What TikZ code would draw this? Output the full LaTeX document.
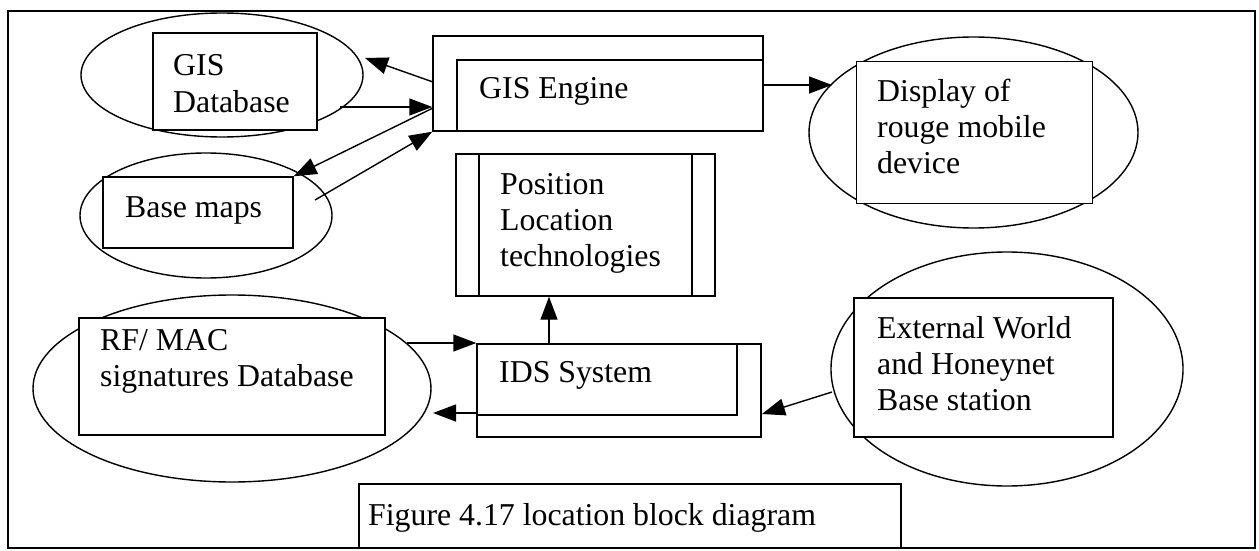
\documentclass[tikz,border=0pt]{standalone}
\usepackage{fontspec}
\setmainfont{Liberation Serif}
\usetikzlibrary{arrows.meta,shapes.geometric}
% stacked lines whose baseline is the first line's baseline
\newcommand\tstack[1]{\vtop{\baselineskip=36.3pt\halign{##\hfil\cr#1\crcr}}}
\tikzset{
  ink/.style={line width=1.4pt, black},
  oval/.style={ink, draw, ellipse, inner sep=0pt},
  box/.style={ink, draw, fill=white, rectangle, inner sep=0pt},
  txt/.style={anchor=base west, inner sep=0pt, font=\fontsize{31.8}{36.3}\selectfont},
  arr/.style={ink, -{Triangle[length=23pt,width=17pt]}},
}
\begin{document}
\begin{tikzpicture}[x=1pt,y=-1pt]
\useasboundingbox (0,0) rectangle (1259,551);
% outer frame
\draw[ink] (8,11) rectangle (1255,548);

% ovals behind the boxes
\node[oval, minimum width=282pt, minimum height=124pt] (dbE)   at (222,75) {};
\node[oval, minimum width=252pt, minimum height=125pt] (mapE)  at (206,215.5) {};
\node[oval, minimum width=329pt, minimum height=191pt] (dispE) at (973.5,132.5) {};
\node[oval, minimum width=352pt, minimum height=234pt] (extE)  at (1007,369) {};
\node[oval, minimum width=398pt, minimum height=187pt] (rfE)   at (232,388.5) {};

% boxes
\node[box, minimum width=164pt, minimum height=97pt]  (db)   at (235,81.5) {};
\node[box, minimum width=190pt, minimum height=71pt]  (map)  at (198,212.5) {};
\node[box, minimum width=236pt, minimum height=142pt] (disp) at (974.5,132.5) {};
\node[box, minimum width=259pt, minimum height=139pt] (ext)  at (983.5,367.5) {};
\node[box, minimum width=306pt, minimum height=117pt] (rf)   at (232,376.5) {};

% GIS engine: outer box with inner frame on top and left
\node[box, minimum width=330pt, minimum height=95pt] (eng) at (598,83.5) {};
\draw[ink] (457,131) -- (457,60) -- (764,60);

% position location: box with side bars
\node[box, minimum width=259pt, minimum height=142pt] (pos) at (585.5,225) {};
\draw[ink] (479,154) -- (479,296);
\draw[ink] (692,154) -- (692,296);

% IDS: outer box with inner frame on right and bottom
\node[box, minimum width=284pt, minimum height=93pt] (ids) at (619,390.5) {};
\draw[ink] (477,415) -- (737,415) -- (737,344);

% caption box, open at the frame bottom
\draw[ink] (359,548) -- (359,484) -- (901,484) -- (901,548);

% texts
\node[txt] (tdb)   at (173,76)  {\tstack{GIS\cr Database}};
\node[txt] (tmap)  at (125,217) {Base maps};
\node[txt] (teng)  at (479,99)  {GIS Engine};
\node[txt] (tpos)  at (500,194) {\tstack{Position\cr Location\cr technologies}};
\node[txt] (tdisp) at (877,101) {\tstack{Display of\cr rouge mobile\cr device}};
\node[txt] (text)  at (877,338) {\tstack{External World\cr and Honeynet\cr Base station}};
\node[txt] (trf)   at (100,350) {\tstack{RF/ MAC\cr signatures Database}};
\node[txt] (tids)  at (499,382) {IDS System};
\node[txt] (tcap)  at (368,525) {Figure 4.17 location block diagram};

% connector end points
\coordinate (engA)  at (433,82);
\coordinate (dbIn)  at (365,58);
\coordinate (dbOut) at (340,107);
\coordinate (engB)  at (433,108);
\coordinate (mapOut) at (315,200);
\coordinate (dispIn) at (832,85);
\coordinate (idsTop) at (549,344);
\coordinate (rfOut) at (407,343);
\coordinate (idsL)  at (477,413);
\coordinate (rfIn)  at (433,413);
\coordinate (extOut) at (832,392);
\coordinate (idsR)  at (762,414);

% connectors
\draw[arr] (engA) -- (dbIn);
\draw[arr] (dbOut) -- (eng.west |- dbOut);
\draw[arr] (engB) -- (map.north east);
\draw[arr] (mapOut) -- (eng.south west);
\draw[arr] (eng.east |- dispIn) -- (dispIn);
\draw[arr] (idsTop) -- (idsTop |- pos.south);
\draw[arr] (rfOut) -- (ids.west |- rfOut);
\draw[arr] (idsL) -- (rfIn);
\draw[arr] (extOut) -- (idsR);
\end{tikzpicture}
\end{document}
